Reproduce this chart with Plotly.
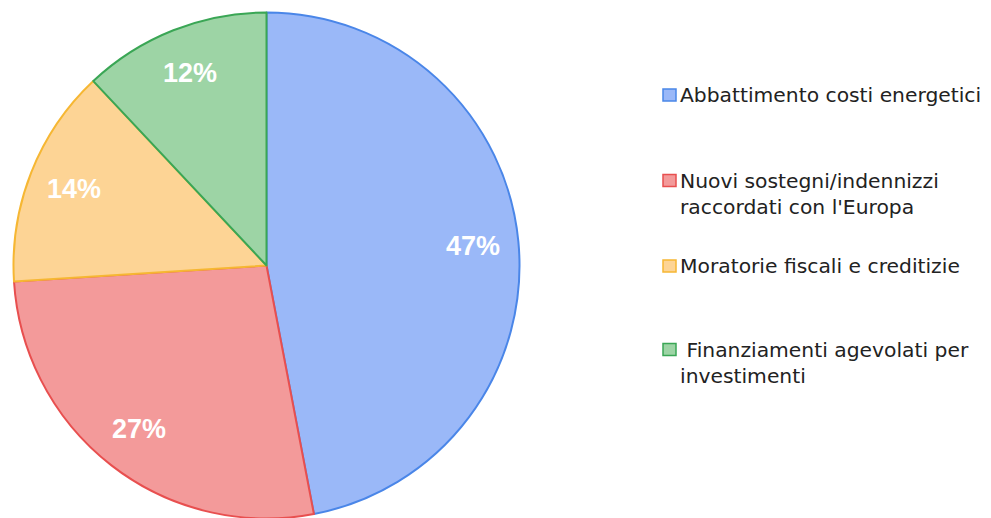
import math
import plotly.graph_objects as go

labels = ["Abbattimento costi energetici",
          "Nuovi sostegni/indennizzi<br>raccordati con l'Europa",
          "Moratorie fiscali e creditizie",
          " Finanziamenti agevolati per<br>investimenti"]
values = [47, 27, 14, 12]
fill_colors = ["#9ab8f8", "#f39a9a", "#fdd495", "#9dd4a5"]
line_colors = ["#4a86e8", "#e84f4f", "#f6b733", "#3aa655"]

W, H = 991, 518
OFF = 8  # page offset of the plot div (body margin)
R = 253
cx, cy = 266.5 - OFF, 265.5 - OFF  # pie centre in figure pixels

fig = go.Figure(go.Pie(
    values=values, labels=labels, sort=False, direction="clockwise", rotation=0,
    marker=dict(colors=fill_colors, line=dict(color=line_colors, width=2)),
    textinfo="none", hoverinfo="label+percent", showlegend=False,
    domain=dict(x=[(cx - R) / W, (cx + R) / W], y=[1 - (cy + R) / H, 1 - (cy - R) / H]),
))

total = sum(values)
cum = 0
annotations = []
for v in values:
    mid = 2 * math.pi * (cum + v / 2) / total
    cum += v
    px = cx + 0.82 * R * math.sin(mid)
    py = cy - 0.82 * R * math.cos(mid)
    annotations.append(dict(x=px / W, y=1 - py / H, xref="paper", yref="paper",
                            text=f"<b>{round(100 * v / total)}%</b>", showarrow=False,
                            font=dict(family="Liberation Sans, Arial", size=27, color="white"),
                            xanchor="center", yanchor="middle"))

# custom legend (page y of each item's centre)
legend_y = [95, 194, 266, 363]
shapes = []
for lbl, fc, lc, ly in zip(labels, fill_colors, line_colors, legend_y):
    ly -= OFF
    nlines = lbl.count("<br>") + 1
    first_line_y = ly - (nlines - 1) * 27 / 2
    shapes.append(dict(type="rect", xref="paper", yref="paper",
                       x0=(663 - OFF) / W, x1=(676 - OFF) / W,
                       y0=1 - (first_line_y + 6) / H, y1=1 - (first_line_y - 6) / H,
                       fillcolor=fc, line=dict(color=lc, width=1.5)))
    annotations.append(dict(x=(678 - OFF) / W, y=1 - ly / H, xref="paper", yref="paper",
                            text=lbl, showarrow=False, align="left",
                            font=dict(family="DejaVu Sans", size=20.3, color="#222222"),
                            xanchor="left", yanchor="middle"))

fig.update_layout(width=W, height=H, margin=dict(l=0, r=0, t=0, b=0),
                  paper_bgcolor="white", plot_bgcolor="white",
                  annotations=annotations, shapes=shapes)
fig.write_html("out.html")
